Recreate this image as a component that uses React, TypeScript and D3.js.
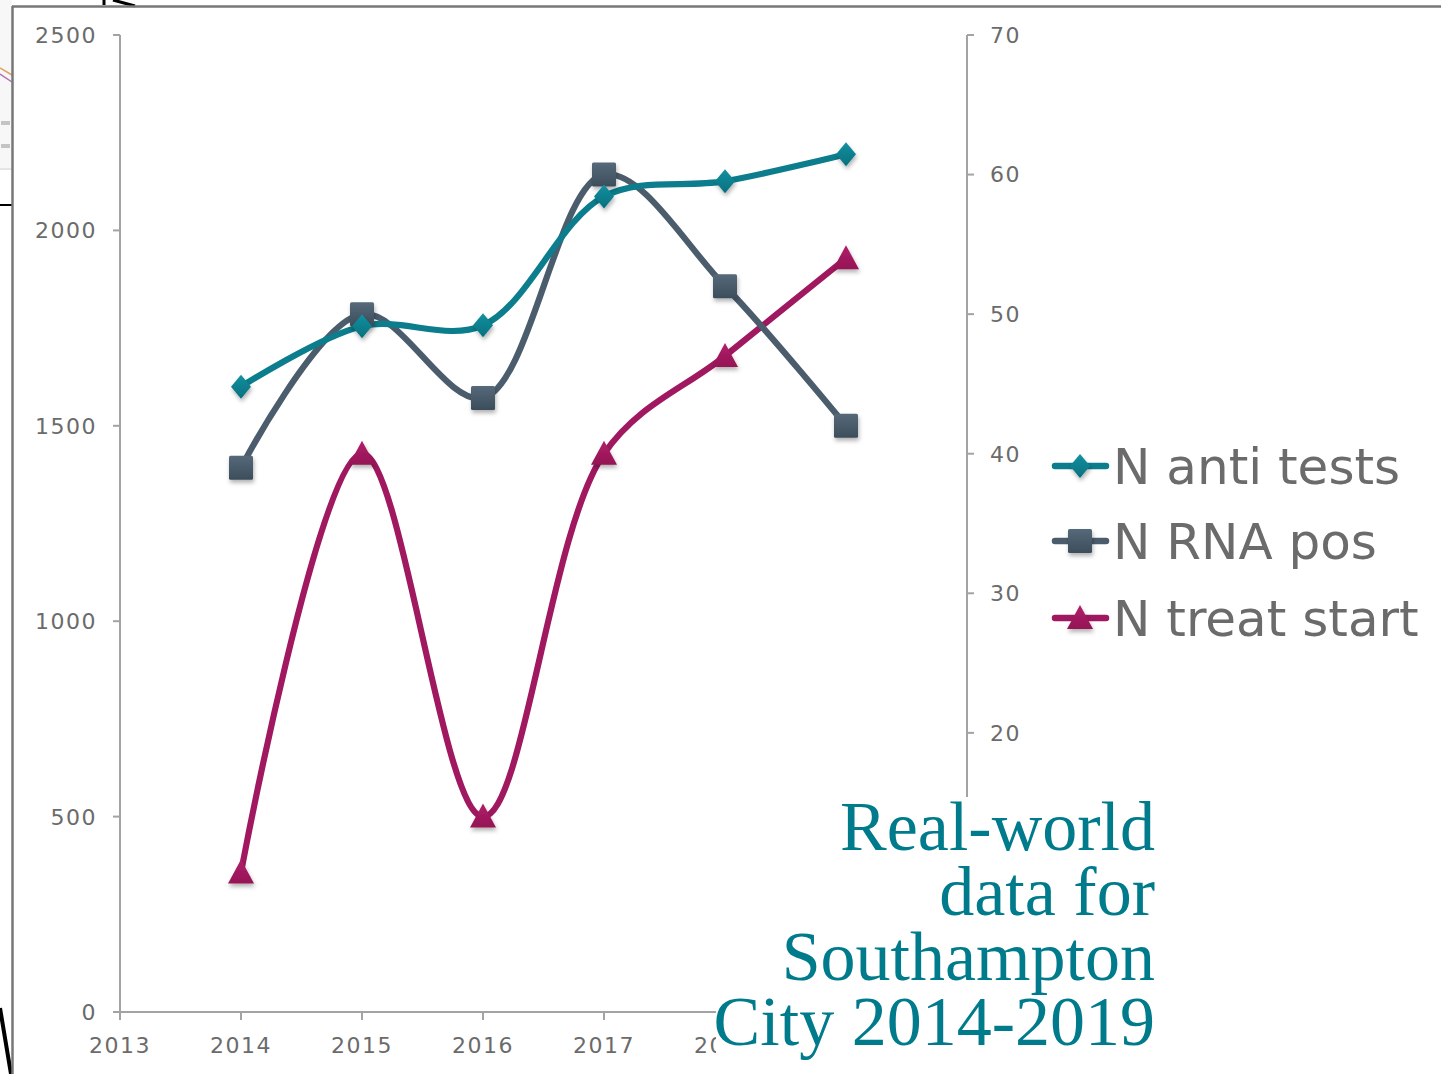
import React from "react";
import * as d3 from "d3";

const years = [2014, 2015, 2016, 2017, 2018, 2019];
const antiTests = [1600, 1755, 1757, 2087, 2126, 2195];
const rnaPos = [39, 50, 44, 60, 52, 42];
const treatStart = [10, 40, 14, 40, 47, 54];
const xTicks = [2013, 2014, 2015, 2016, 2017, 2018];
const leftTicks = [0, 500, 1000, 1500, 2000, 2500];
const rightTicks = [20, 30, 40, 50, 60, 70];
const seriesNames = ["N anti tests", "N RNA pos", "N treat start"];
const titleLines = ["Real-world", "data for", "Southampton", "City 2014-2019"];

const W = 1441;
const H = 1074;
const C_ANTI = "#0b7d8c";
const C_RNA = "#4b5d6c";
const C_TREAT = "#a0185f";
const AXIS = "#a3a3a3";
const LABEL = "#6b6b6b";
const TITLE = "#007b8b";

export default function App() {
  const x = d3.scaleLinear().domain([2013, 2020]).range([120, 967]);
  const yL = d3.scaleLinear().domain([0, 2500]).range([1012, 35]);
  const yR = d3.scaleLinear().domain([0, 70]).range([1012, 35]);
  const curve = d3.curveCatmullRom.alpha(0.5);

  const antiPts: [number, number][] = years.map((yr, i) => [x(yr), yL(antiTests[i])]);
  const rnaPts: [number, number][] = years.map((yr, i) => [x(yr), yR(rnaPos[i])]);
  const treatPts: [number, number][] = years.map((yr, i) => [x(yr), yR(treatStart[i])]);
  const line = d3.line().curve(curve);

  const diamond = "M0,-12 L10,0 L0,12 L-10,0 Z";
  const tri = "M0,-13 L13,11 L-13,11 Z";

  const tickFont = { fontFamily: "DejaVu Sans", fontSize: 22, fill: LABEL, letterSpacing: 1.5 } as any;

  const legendRows = [
    { name: seriesNames[0], color: C_ANTI, y: 466, kind: "d" },
    { name: seriesNames[1], color: C_RNA, y: 541, kind: "s" },
    { name: seriesNames[2], color: C_TREAT, y: 618, kind: "t" },
  ];

  const marker = (kind: string, cx: number, cy: number, key: any) => {
    if (kind === "d")
      return <path key={key} d={diamond} transform={`translate(${cx},${cy})`} fill="url(#gAnti)" filter="url(#sh)" />;
    if (kind === "s")
      return <rect key={key} x={cx - 12} y={cy - 12} width={24} height={24} rx={1.5} fill="url(#gRna)" filter="url(#sh)" />;
    return <path key={key} d={tri} transform={`translate(${cx},${cy})`} fill="url(#gTreat)" filter="url(#sh)" />;
  };

  return (
    <div style={{ position: "absolute", left: 0, top: 0 }}>
      <svg width={W} height={H} viewBox={`0 0 ${W} ${H}`} style={{ display: "block", background: "#fff" }}>
        <defs>
          <linearGradient id="gAnti" x1="0" y1="0" x2="0" y2="1">
            <stop offset="0" stopColor="#1590a0" />
            <stop offset="1" stopColor="#04707e" />
          </linearGradient>
          <linearGradient id="gRna" x1="0" y1="0" x2="0" y2="1">
            <stop offset="0" stopColor="#56697a" />
            <stop offset="1" stopColor="#3c4d5b" />
          </linearGradient>
          <linearGradient id="gTreat" x1="0" y1="0" x2="0" y2="1">
            <stop offset="0" stopColor="#b01f6b" />
            <stop offset="1" stopColor="#941354" />
          </linearGradient>
          <filter id="sh" x="-50%" y="-50%" width="200%" height="200%">
            <feDropShadow dx="1" dy="3" stdDeviation="2" floodColor="#000" floodOpacity="0.3" />
          </filter>
        </defs>

        {/* background screenshot artefacts */}
        <rect x={0} y={0} width={12} height={168} fill="#f7f7f7" />
        <line x1={0} y1={169} x2={12} y2={169} stroke="#dcdcdc" strokeWidth={1.5} />
        <path d="M0,68 L12,75" stroke="#e0a060" strokeWidth={1.5} fill="none" />
        <path d="M0,74 L12,82" stroke="#b070b0" strokeWidth={1.5} fill="none" />
        <path d="M1,123 L10,123 M1,146 L10,146" stroke="#c4c4c4" strokeWidth={4} fill="none" />
        <line x1={0} y1={205} x2={12} y2={205} stroke="#000" strokeWidth={2} />
        <path d="M104,0 L104,5 M113,0 L135,6" stroke="#000" strokeWidth={3} fill="none" />
        <path d="M0,1008 L11,1074" stroke="#000" strokeWidth={4} fill="none" />
        <line x1={12} y1={6.5} x2={W} y2={6.5} stroke="#777" strokeWidth={2.5} />
        <line x1={12.5} y1={6} x2={12.5} y2={H} stroke="#777" strokeWidth={2.5} />

        {/* left axis */}
        <line x1={120} y1={yL(2500)} x2={120} y2={1020} stroke={AXIS} strokeWidth={2} />
        {leftTicks.map((t) => (
          <g key={"l" + t}>
            <line x1={113} x2={120} y1={yL(t)} y2={yL(t)} stroke={AXIS} strokeWidth={2} />
            <text x={97} y={yL(t)} dy="0.36em" textAnchor="end" {...tickFont}>{t}</text>
          </g>
        ))}

        {/* x axis */}
        <line x1={113} y1={1012} x2={967} y2={1012} stroke={AXIS} strokeWidth={2} />
        {xTicks.map((t) => (
          <g key={"x" + t}>
            <line x1={x(t)} x2={x(t)} y1={1012} y2={1020} stroke={AXIS} strokeWidth={2} />
            <text x={x(t)} y={1053} textAnchor="middle" {...tickFont}>{t}</text>
          </g>
        ))}

        {/* right axis */}
        <line x1={967} y1={yR(70)} x2={967} y2={1012} stroke={AXIS} strokeWidth={2} />
        {rightTicks.map((t) => (
          <g key={"r" + t}>
            <line x1={967} x2={974} y1={yR(t)} y2={yR(t)} stroke={AXIS} strokeWidth={2} />
            <text x={990} y={yR(t)} dy="0.36em" textAnchor="start" {...tickFont}>{t}</text>
          </g>
        ))}

        {/* series lines */}
        <path d={line(treatPts) || ""} fill="none" stroke={C_TREAT} strokeWidth={6.2} strokeLinecap="round" />
        <path d={line(rnaPts) || ""} fill="none" stroke={C_RNA} strokeWidth={6.2} strokeLinecap="round" />
        <path d={line(antiPts) || ""} fill="none" stroke={C_ANTI} strokeWidth={6.2} strokeLinecap="round" />

        {treatPts.map((p, i) => marker("t", p[0], p[1], "t" + i))}
        {rnaPts.map((p, i) => marker("s", p[0], p[1], "s" + i))}
        {antiPts.map((p, i) => marker("d", p[0], p[1], "d" + i))}

        {/* legend */}
        {legendRows.map((r) => (
          <g key={r.name}>
            <line x1={1055} x2={1106} y1={r.y} y2={r.y} stroke={r.color} strokeWidth={6.5} strokeLinecap="round" />
            {marker(r.kind, 1080, r.y, "lm" + r.kind)}
            <text x={1113} y={r.y + 18} fontFamily="DejaVu Sans" fontSize={50} fill={LABEL}>{r.name}</text>
          </g>
        ))}

        {/* title box */}
        <rect x={716} y={797} width={460} height={290} fill="#fff" />
        {titleLines.map((t, i) => (
          <text key={t} x={1155} y={850 + i * 65} textAnchor="end" fontFamily="Liberation Serif" fontSize={70} fill={TITLE}>
            {t}
          </text>
        ))}
      </svg>
    </div>
  );
}
